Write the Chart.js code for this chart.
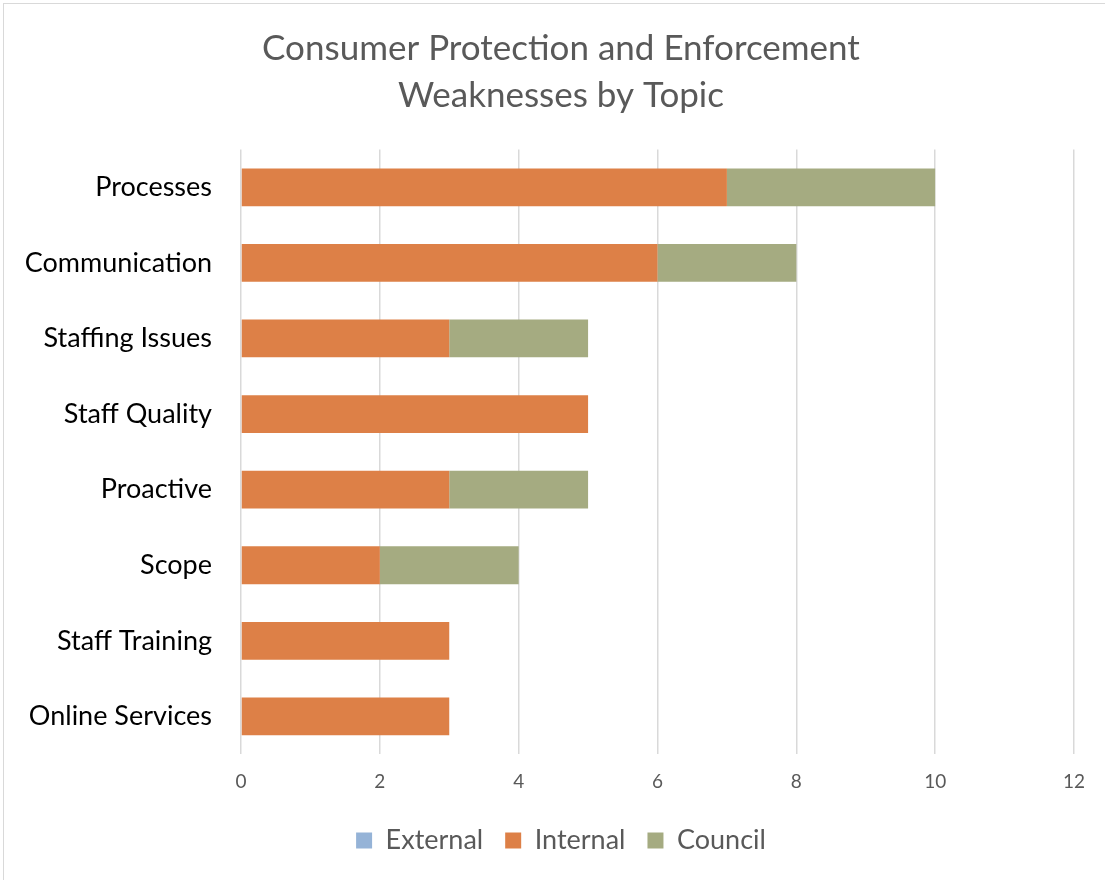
<!DOCTYPE html>
<html>
<head>
<meta charset="utf-8">
<script src="https://cdn.jsdelivr.net/npm/chart.js@4/dist/chart.umd.min.js"></script>
<style>
  html, body { margin: 0; padding: 0; background: #fff; }
  #wrap { position: relative; width: 1105px; height: 880px; box-sizing: border-box; border: 1px solid #d9d9d9; border-right: none; border-bottom: none; margin: 3px 0 0 3px; }
</style>
</head>
<body>
<div id="wrap"><canvas id="weaknesses" width="1102" height="877"></canvas></div>
<script>
const topics = ['Processes', 'Communication', 'Staffing Issues', 'Staff Quality', 'Proactive', 'Scope', 'Staff Training', 'Online Services']
const external = [0, 0, 0, 0, 0, 0, 0, 0]
const internal = [7, 6, 3, 5, 3, 2, 3, 3]
const council = [3, 2, 2, 0, 2, 2, 0, 0]

const font = "Lato, 'Open Sans', sans-serif"

// nudge title and legend right so they sit centred in the wider frame
const centreShift = {
    id: 'centreShift',
    afterLayout(chart) {
        for (const box of [chart.titleBlock, chart.legend]) {
            box.left += 22
            box.right += 22
        }
    }
}

const ctx = document.getElementById('weaknesses')
new Chart(ctx, {
    type: 'bar',
    data: {
        labels: topics,
        datasets: [
            {label: 'External', data: external, backgroundColor: '#95b3d7'},
            {label: 'Internal', data: internal, backgroundColor: '#dd8047'},
            {label: 'Council', data: council, backgroundColor: '#a5ab81'}
        ]
    },
    options: {
        indexAxis: 'y',
        responsive: false,
        animation: false,
        layout: {padding: {left: 0, right: 32, top: 21, bottom: 17}},
        datasets: {bar: {categoryPercentage: 1, barPercentage: 0.5}},
        scales: {
            x: {
                stacked: true,
                min: 0, max: 12,
                ticks: {stepSize: 2, color: '#595959', font: {family: font, size: 19}, padding: 16},
                grid: {color: '#d9d9d9', lineWidth: 1.5, drawTicks: false},
                border: {display: false},
                afterFit: scale => { scale.height -= 4 }
            },
            y: {
                stacked: true,
                ticks: {color: '#000', font: {family: font, size: 27}, padding: 21},
                grid: {display: false},
                border: {display: false},
                afterFit: scale => { scale.width = 237 }
            }
        },
        plugins: {
            title: {
                display: true,
                text: ['Consumer Protection and Enforcement', 'Weaknesses by Topic'],
                color: '#595959',
                font: {family: font, size: 35, weight: 'normal', lineHeight: 1.35},
                padding: {top: 0, bottom: 30}
            },
            legend: {
                position: 'bottom',
                labels: {color: '#595959', font: {family: font, size: 27}, boxWidth: 16, boxHeight: 16, padding: 22}
            },
            tooltip: {enabled: false}
        }
    },
    plugins: [centreShift]
})
</script>
</body>
</html>
